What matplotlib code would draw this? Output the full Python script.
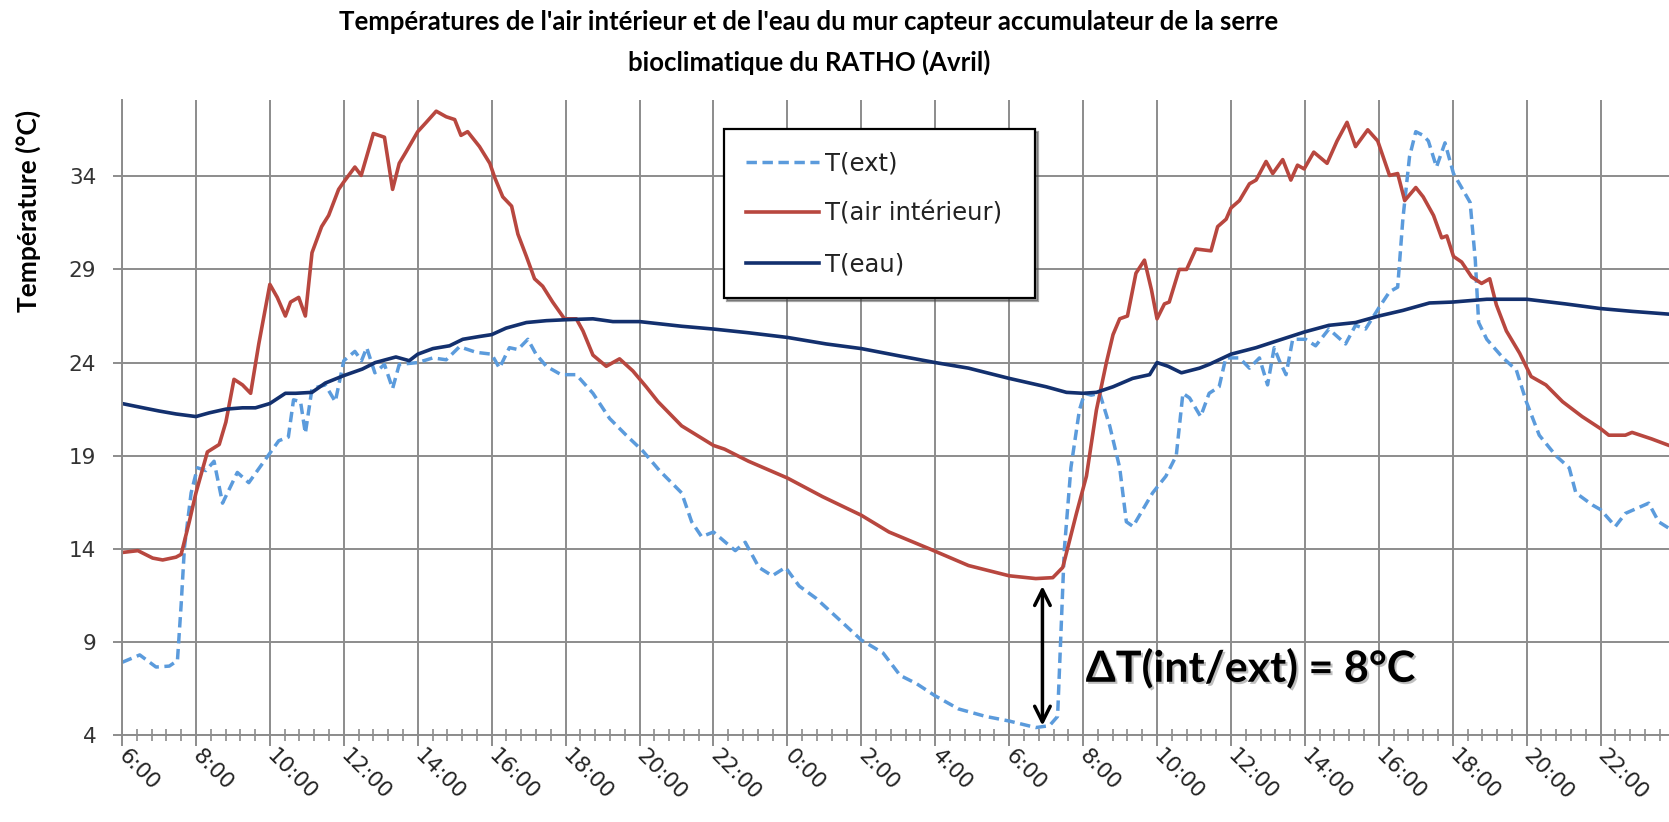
import matplotlib
matplotlib.use("Agg")
import matplotlib.pyplot as plt
import matplotlib.patheffects as pe
from matplotlib.ticker import MultipleLocator
import numpy as np

# -----------------------------
# Data (hours counted from 0:00 of day 1)
# -----------------------------
ext_h = [6.0, 6.48, 6.92, 7.28, 7.5, 7.6, 7.69, 7.87, 8.04, 8.27, 8.49, 8.72, 9.12, 9.43,
         9.88, 10.24, 10.5, 10.64, 10.83, 10.96, 11.14, 11.5, 11.77, 12.0, 12.3, 12.48,
         12.62, 12.84, 13.1, 13.32, 13.5, 14.0, 14.41, 14.77, 15.13, 15.58, 16.0, 16.21,
         16.48, 16.71, 16.98, 17.2, 17.48, 17.88, 18.29, 18.74, 19.19, 19.64, 20.09, 20.54,
         21.14, 21.41, 21.68, 22.0, 22.59, 22.86, 23.23, 23.59, 23.95, 24.32, 24.77, 25.32,
         26.0, 26.59, 27.05, 27.5, 28.0, 28.63, 29.36, 30.0, 30.72, 31.09, 31.31, 31.4,
         31.49, 31.67, 31.9, 32.04, 32.22, 32.45, 32.72, 32.99, 33.17, 33.35, 33.88, 34.24,
         34.52, 34.7, 34.88, 35.18, 35.41, 35.68, 35.86, 36.23, 36.5, 36.77, 36.99, 37.17,
         37.31, 37.49, 37.67, 38.02, 38.29, 38.65, 39.1, 39.37, 39.64, 40.02, 40.29, 40.51,
         40.65, 40.83, 41.0, 41.2, 41.34, 41.56, 41.79, 42.02, 42.47, 42.61, 42.7, 42.92,
         43.36, 43.72, 43.99, 44.34, 44.79, 45.15, 45.33, 45.78, 46.0, 46.4, 46.67, 47.3,
         47.57, 47.85]
ext_t = [7.9, 8.3, 7.65, 7.7, 8.0, 11.0, 14.1, 17.0, 18.35, 18.2, 18.7, 16.45, 18.1, 17.55,
         18.8, 19.8, 20.0, 22.0, 21.9, 20.2, 22.6, 22.8, 21.9, 24.1, 24.6, 24.1,
         24.8, 23.45, 23.9, 22.6, 23.9, 24.0, 24.25, 24.15, 24.85, 24.55, 24.45, 23.7,
         24.8, 24.7, 25.25, 24.45, 23.8, 23.35, 23.35, 22.35, 21.0, 20.1, 19.25, 18.2,
         17.0, 15.45, 14.65, 14.9, 13.9, 14.35, 13.0, 12.55, 13.0, 12.0, 11.35, 10.35,
         9.1, 8.4, 7.2, 6.75, 6.1, 5.4, 5.0, 4.75, 4.4, 4.5, 5.0, 9.45,
         13.9, 18.35, 21.45, 22.35, 22.25, 22.35, 20.6, 18.35, 15.45, 15.2, 17.0, 17.9,
         19.0, 22.35, 22.1, 21.1, 22.35, 22.7, 24.25, 24.25, 23.7, 24.25, 22.8, 24.8,
         24.1, 23.35, 25.25, 25.25, 24.9, 25.8, 25.0, 26.0, 25.8, 27.0, 27.8, 28.05,
         31.7, 35.05, 36.4, 36.2, 35.9, 34.5, 35.8, 34.15, 32.6, 29.5, 26.15, 25.25,
         24.25, 23.6, 21.9, 20.1, 19.0, 18.35, 17.0, 16.35, 16.1, 15.2, 15.9, 16.45,
         15.45, 15.1]

air_h = [6.0, 6.43, 6.83, 7.1, 7.46, 7.6, 7.82, 8.0, 8.31, 8.63, 8.81, 9.03, 9.26, 9.48,
         9.7, 10.0, 10.2, 10.42, 10.56, 10.78, 10.96, 11.14, 11.4, 11.59, 11.86, 12.0,
         12.3, 12.47, 12.8, 13.1, 13.32, 13.5, 13.68, 14.0, 14.23, 14.5, 14.77, 15.0,
         15.17, 15.35, 15.67, 15.95, 16.09, 16.3, 16.54, 16.71, 16.94, 17.16, 17.38, 17.65,
         17.97, 18.29, 18.47, 18.74, 19.1, 19.46, 19.82, 20.18, 20.5, 21.14, 22.0, 22.3,
         22.95, 24.0, 24.95, 26.0, 26.75, 27.84, 28.9, 30.0, 30.72, 31.18, 31.45, 31.82,
         32.09, 32.36, 32.63, 32.81, 32.99, 33.2, 33.43, 33.66, 33.85, 34.0, 34.2, 34.33,
         34.6, 34.8, 35.05, 35.46, 35.64, 35.87, 36.0, 36.23, 36.5, 36.68, 36.95, 37.13,
         37.4, 37.62, 37.8, 37.98, 38.24, 38.6, 38.87, 39.14, 39.37, 39.7, 39.97, 40.29,
         40.51, 40.7, 41.0, 41.2, 41.48, 41.7, 41.84, 42.02, 42.24, 42.51, 42.78, 43.0,
         43.18, 43.45, 43.81, 44.12, 44.52, 44.97, 45.5, 46.0, 46.22, 46.67, 46.85, 47.38,
         47.85]
air_t = [13.8, 13.9, 13.5, 13.4, 13.55, 13.7, 15.45, 17.0, 19.2, 19.6, 20.8, 23.1, 22.8, 22.35,
         25.0, 28.2, 27.5, 26.5, 27.25, 27.5, 26.5, 29.9, 31.3, 31.9, 33.3, 33.7,
         34.5, 34.05, 36.3, 36.1, 33.3, 34.7, 35.3, 36.4, 36.9, 37.5, 37.2, 37.05,
         36.2, 36.4, 35.6, 34.7, 33.9, 32.9, 32.4, 30.9, 29.7, 28.5, 28.1, 27.25,
         26.35, 26.35, 25.7, 24.4, 23.8, 24.2, 23.55, 22.7, 21.9, 20.6, 19.55, 19.35,
         18.7, 17.8, 16.8, 15.8, 14.9, 14.0, 13.1, 12.55, 12.4, 12.45, 13.0, 15.9,
         17.9, 21.45, 24.0, 25.5, 26.35, 26.5, 28.8, 29.5, 27.9, 26.35, 27.15, 27.25,
         29.0, 29.0, 30.1, 30.0, 31.3, 31.7, 32.3, 32.7, 33.6, 33.8, 34.8, 34.15,
         34.9, 33.8, 34.6, 34.4, 35.3, 34.7, 35.9, 36.9, 35.6, 36.5, 35.9, 34.05,
         34.15, 32.7, 33.4, 32.9, 31.9, 30.7, 30.8, 29.7, 29.4, 28.6, 28.25, 28.5,
         27.1, 25.7, 24.5, 23.25, 22.8, 21.9, 21.1, 20.45, 20.1, 20.1, 20.25, 19.9,
         19.55]

eau_h = [6.0, 6.57, 7.0, 7.46, 8.0, 8.36, 8.81, 9.26, 9.61, 10.0, 10.42, 10.7, 11.14, 11.5,
         12.0, 12.5, 12.85, 13.41, 13.77, 14.0, 14.41, 14.86, 15.22, 15.67, 16.0, 16.39,
         16.94, 17.48, 18.0, 18.74, 19.28, 20.0, 21.14, 22.0, 22.95, 24.0, 25.05, 26.0,
         27.05, 28.0, 28.9, 30.0, 31.0, 31.55, 32.0, 32.36, 32.81, 33.34, 33.8, 34.0,
         34.3, 34.66, 35.15, 35.41, 36.0, 36.68, 37.22, 38.0, 38.65, 39.37, 40.0, 40.65,
         41.37, 42.0, 42.92, 44.0, 45.05, 46.0, 46.85, 47.85]
eau_t = [21.8, 21.57, 21.4, 21.24, 21.1, 21.3, 21.5, 21.57, 21.57, 21.8, 22.35, 22.35, 22.4, 22.9,
         23.3, 23.65, 24.0, 24.3, 24.1, 24.45, 24.75, 24.9, 25.25, 25.4, 25.5, 25.85,
         26.15, 26.25, 26.3, 26.35, 26.2, 26.2, 25.95, 25.8, 25.6, 25.35, 25.0, 24.75,
         24.35, 24.0, 23.7, 23.15, 22.7, 22.4, 22.35, 22.4, 22.7, 23.15, 23.35, 24.0,
         23.8, 23.45, 23.7, 23.9, 24.45, 24.8, 25.15, 25.65, 26.0, 26.15, 26.5, 26.8,
         27.2, 27.25, 27.4, 27.4, 27.15, 26.9, 26.75, 26.6]

tick_hours = list(range(6, 48, 2))
tick_labels = ["6:00", "8:00", "10:00", "12:00", "14:00", "16:00", "18:00", "20:00",
               "22:00", "0:00", "2:00", "4:00", "6:00", "8:00", "10:00", "12:00",
               "14:00", "16:00", "18:00", "20:00", "22:00"]
y_ticks = [4, 9, 14, 19, 24, 29, 34]

# annotation: gap between inside air and outside at dawn
delta_h = 30.9
delta_top, delta_bottom = 12.0, 4.5

# -----------------------------
# Plot
# -----------------------------
W, H = 1669, 822
fig = plt.figure(figsize=(W / 100, H / 100), dpi=100)
ax = fig.add_axes([122 / W, 1 - 735 / H, 1 - 122 / W, (735 - 100) / H])

ax.plot(ext_h, ext_t, color="#5b9bdc", lw=2.5, linestyle=(0, (3.0, 1.6)), label="T(ext)")
ax.plot(air_h, air_t, color="#b8473f", lw=2.6, label="T(air intérieur)")
ax.plot(eau_h, eau_t, color="#13306e", lw=2.6, label="T(eau)")

ax.set_xlim(6, 47.85)
ax.set_ylim(4, 38.1)

grid_col = "#8c8c8c"
ax.set_xticks(tick_hours)
ax.set_xticklabels(tick_labels, rotation=-45, ha="left", va="center",
                   rotation_mode="anchor")
ax.xaxis.set_minor_locator(MultipleLocator(0.4))
ax.set_yticks(y_ticks)
ax.grid(True, which="major", color=grid_col, lw=1.4)
ax.set_axisbelow(True)

ax.tick_params(axis="x", which="major", direction="out", length=8, width=1.4,
               color=grid_col, pad=5, labelsize=15.5, labelcolor="#222222")
ax.tick_params(axis="x", which="minor", direction="inout", length=9, width=1.2,
               color=grid_col)
ax.tick_params(axis="y", which="major", direction="out", length=6.5, width=1.4,
               color=grid_col, pad=12, labelsize=15.5, labelcolor="#333333")

for s in ["top", "right"]:
    ax.spines[s].set_visible(False)
for s in ["left", "bottom"]:
    ax.spines[s].set_color(grid_col)
    ax.spines[s].set_linewidth(1.4)

# legend
leg = ax.legend(loc="upper left", bbox_to_anchor=(0.389, 0.688, 0.201, 0.266),
                mode="expand", fontsize=17.5, frameon=True, fancybox=False, shadow=True,
                framealpha=1, borderpad=0.9, labelspacing=1.1, handlelength=3.0,
                handletextpad=0.25, borderaxespad=0)
leg.get_frame().set_edgecolor("black")
leg.get_frame().set_linewidth(1.6)
for t in leg.get_texts():
    t.set_color("#222222")

# delta-T annotation
ax.annotate("", xy=(delta_h, delta_bottom), xytext=(delta_h, delta_top),
            arrowprops=dict(arrowstyle="<->", color="black", lw=2.5,
                            mutation_scale=28, shrinkA=0, shrinkB=0))
ax.text(32.07, 7.6, "ΔT(int/ext) = 8°C", ha="left", va="center", fontsize=31,
        fontweight="bold", family=["Lato", "DejaVu Sans"], color="black",
        path_effects=[pe.SimplePatchShadow(offset=(1.5, -1.5), shadow_rgbFace="gray",
                                           alpha=0.5), pe.Normal()])

# titles
title_font = dict(fontsize=18.5, fontweight="bold", family=["Lato", "DejaVu Sans"])
fig.text(809 / W, 1 - 22 / H,
         "Températures de l'air intérieur et de l'eau du mur capteur accumulateur de la serre",
         ha="center", va="center", **title_font)
fig.text(809 / W, 1 - 62 / H, "bioclimatique du RATHO (Avril)",
         ha="center", va="center", **title_font)
fig.text(28 / W, 1 - 211 / H, "Température (°C)", rotation=90, ha="center",
         va="center", fontsize=19, fontweight="bold", family=["Lato", "DejaVu Sans"])

fig.savefig("out.png", dpi=100)
